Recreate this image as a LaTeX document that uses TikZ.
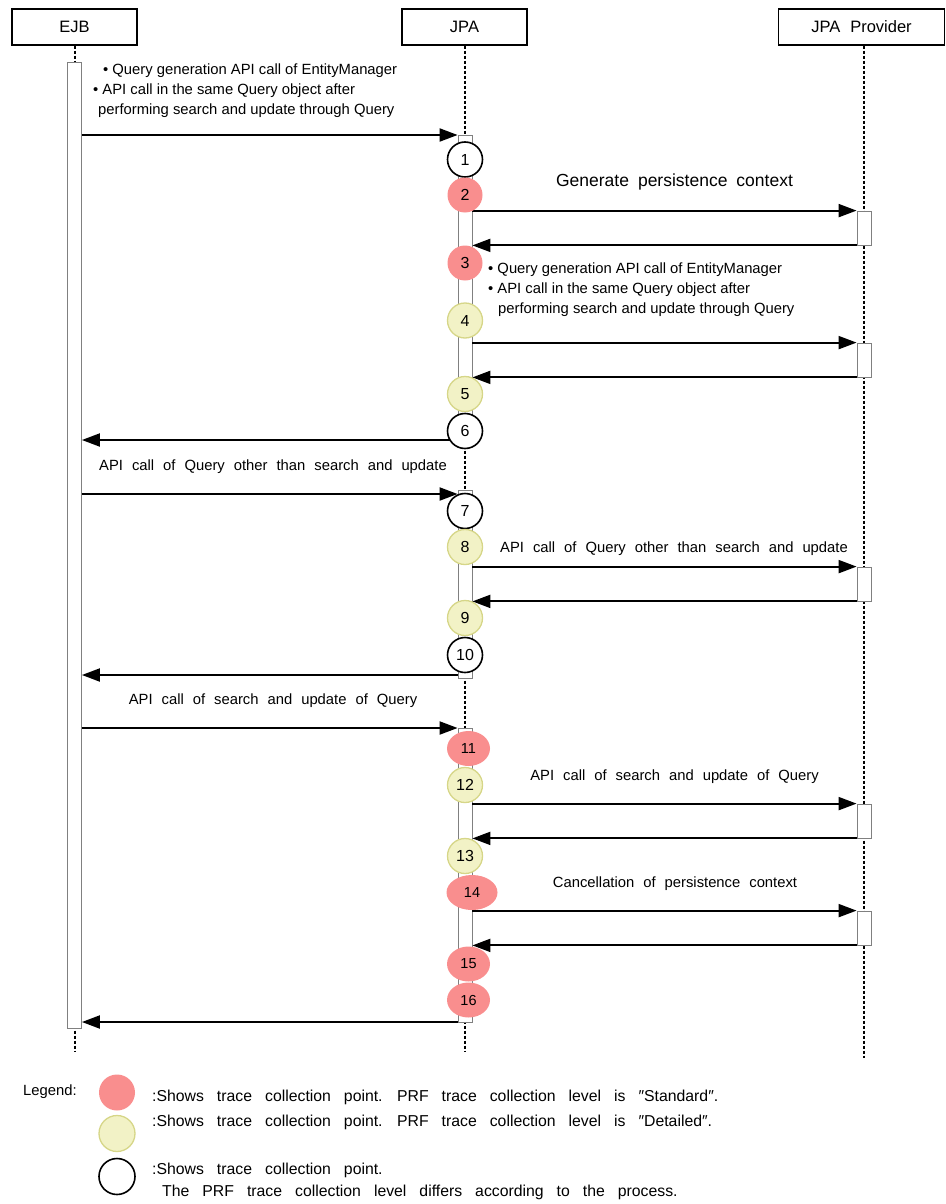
\documentclass[tikz,border=0pt]{standalone}
\usepackage{fontspec}
\setmainfont{Liberation Sans}
\usetikzlibrary{arrows.meta,positioning,calc,shapes.geometric}
\definecolor{stdred}{HTML}{F98E8E}
\definecolor{detfill}{HTML}{F2F2C6}
\definecolor{detline}{HTML}{D6D688}
\tikzset{
  obj/.style={draw,line width=1.4pt,minimum width=125pt,minimum height=36pt,inner sep=0pt,
    font=\fontsize{16.5}{18}\selectfont},
  life/.style={line width=1.5pt,dash pattern=on 3pt off 2pt},
  act/.style={draw=gray,fill=white,line width=0.8pt,minimum width=14pt,inner sep=0pt},
  msg/.style={line width=2pt,-{Triangle[length=18pt,width=13pt]}},
  pnt/.style={circle,minimum size=35pt,inner sep=0pt,font=\fontsize{16}{18}\selectfont},
  std/.style={pnt,fill=stdred},
  stde/.style={ellipse,minimum width=43pt,minimum height=35pt,inner sep=0pt,fill=stdred,
    font=\fontsize{14.5}{16}\selectfont},
  det/.style={pnt,fill=detfill,draw=detline,line width=1.3pt},
  var/.style={pnt,fill=white,draw,line width=1.6pt},
  txt/.style={inner sep=0pt,font=\fontsize{14.8}{17}\selectfont},
  wide/.style={txt,execute at begin node={\spaceskip=9pt\relax}},
  key/.style={txt,font=\fontsize{15.8}{18}\selectfont,execute at begin node={\spaceskip=13pt\relax}},
}

\begin{document}
\begin{tikzpicture}[x=1pt,y=-1pt]
  \useasboundingbox (0,0) rectangle (945,1204);
  % participants and lifelines
  \node[obj] (ejb) at (74.5,27) {EJB};
  \node[obj] (jpa) at (464.5,27) {JPA};
  \node[obj,minimum width=166pt,execute at begin node={\spaceskip=10pt\relax}] (prov) at (861.5,27) {JPA Provider};
  \draw[life] (ejb.south -| 75,0) -- (75,1052);
  \draw[life] (jpa.south -| 465,0) -- (465,1052);
  \draw[life] (prov.south -| 864,0) -- (864,1058);
  % activation bars
  \foreach \n/\x/\ya/\yb in {ejbb/74.5/62/1028,j1/465/135/440,j2/465/490/678,j3/465/728/1022}
    \node[act,minimum height={(\yb-\ya)*1pt}] (\n) at (\x,{(\ya+\yb)/2}) {};
  \foreach \n/\ya in {p1/211,p2/343,p3/567,p4/804,p5/911}
    \node[act,minimum height=34pt] (\n) at (864,\ya+17) {};
  % messages
  \foreach \j/\y in {j1/135,j2/494,j3/728}
    \draw[msg] (ejbb.east |- 0,\y) -- (\j.west |- 0,\y);
  \foreach \j/\p in {j1/p1,j1/p2,j2/p3,j3/p4,j3/p5} {
    \draw[msg] (\j.east |- \p.north) -- (\p.north west);
    \draw[msg] (\p.south west) -- (\j.east |- \p.south);
  }
  \foreach \j/\y in {j1/440,j2/675,j3/1022}
    \draw[msg] (\j.west |- 0,\y) -- (ejbb.east |- 0,\y);
  % trace points
  \foreach \k/\s/\y in {1/var/159.5,2/std/195,3/std/263,4/det/320.5,5/det/394,6/var/431,
      7/var/511,8/det/547,9/det/618,10/var/655,12/det/785,13/det/856}
    \node[\s] (c\k) at (465,\y) {\k};
  \foreach \k/\x/\y/\w in {11/468.5/748.5/43,14/472/892.5/51,15/468.5/964/43,16/468.5/1000/43}
    \node[stde,minimum width=\w pt] (c\k) at (\x,\y) {\k};
  % labels
  \node[txt,anchor=west] (qa1) at (103,71) {• Query generation API call of EntityManager};
  \node[txt,anchor=west] (qa2) at (93,91) {• API call in the same Query object after};
  \node[txt,anchor=west] (qa3) at (98,111) {performing search and update through Query};
  \node[txt,anchor=west] (qb1) at (488,270) {• Query generation API call of EntityManager};
  \node[txt,anchor=west] (qb2) at (488,290) {• API call in the same Query object after};
  \node[txt,anchor=west] (qb3) at (498,310) {performing search and update through Query};
  \node[wide,font=\fontsize{17.5}{20}\selectfont] (l1) at (674.5,182) {Generate persistence context};
  \node[wide] (l2) at (273,467) {API call of Query other than search and update};
  \node[wide] (l3) at (674,549) {API call of Query other than search and update};
  \node[wide] (l4) at (273,701) {API call of search and update of Query};
  \node[wide] (l5) at (674.5,777) {API call of search and update of Query};
  \node[wide] (l6) at (675,884) {Cancellation of persistence context};
  % legend
  \node[txt,anchor=west] (leg) at (23,1092) {Legend:};
  \node[stde,minimum width=36pt,minimum height=36pt] (kstd) at (117,1092.5) {};
  \node[det,minimum size=36pt] (kdet) at (117,1133.5) {};
  \node[var,minimum size=36pt] (kvar) at (117,1176.5) {};
  \node[key,anchor=west] (t1) at (152,1097) {:Shows trace collection point. PRF trace collection level is ″Standard″.};
  \node[key,anchor=west] (t2) at (152,1122) {:Shows trace collection point. PRF trace collection level is ″Detailed″.};
  \node[key,anchor=west] (t3) at (152,1170) {:Shows trace collection point.};
  \node[key,anchor=west] (t4) at (162,1192) {The PRF trace collection level differs according to the process.};
\end{tikzpicture}
\end{document}
